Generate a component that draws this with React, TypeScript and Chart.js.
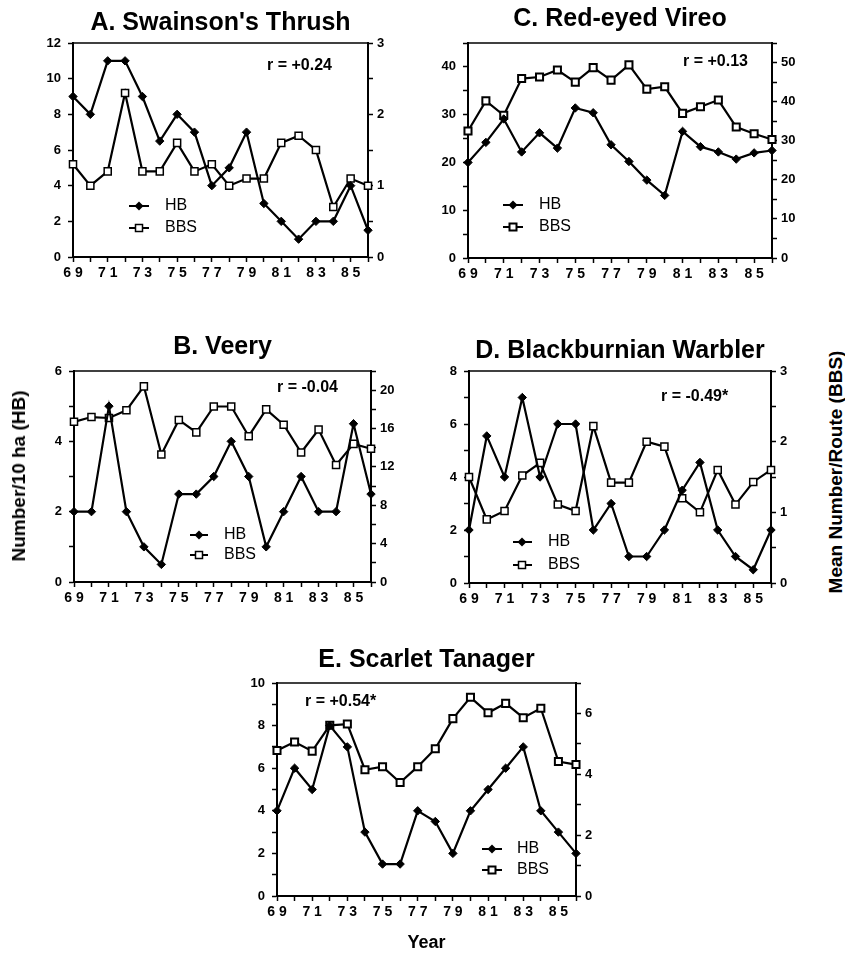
import React, { useEffect, useRef } from "react";
import { Chart, registerables } from "chart.js";
Chart.register(...registerables);

const FONT = '"Liberation Sans", Arial, Helvetica, sans-serif';

// ---- data ----
const years = ["69","70","71","72","73","74","75","76","77","78","79","80","81","82","83","84","85","86"];
const xTickLabels = ["6 9","","7 1","","7 3","","7 5","","7 7","","7 9","","8 1","","8 3","","8 5",""];

const thrushHB = [9, 8, 11, 11, 9, 6.5, 8, 7, 4, 5, 7, 3, 2, 1, 2, 2, 4, 1.5];
const thrushBBS = [1.3, 1.0, 1.2, 2.3, 1.2, 1.2, 1.6, 1.2, 1.3, 1.0, 1.1, 1.1, 1.6, 1.7, 1.5, 0.7, 1.1, 1.0];

const vireoHB = [20, 24.2, 29.1, 22.2, 26.2, 23, 31.4, 30.4, 23.7, 20.2, 16.3, 13.1, 26.5, 23.3, 22.2, 20.7, 22, 22.5];
const vireoBBS = [32.5, 40.2, 36.5, 45.9, 46.3, 48.1, 45, 48.7, 45.5, 49.4, 43.2, 43.8, 37, 38.7, 40.4, 33.5, 31.8, 30.3];

const veeryHB = [2, 2, 5, 2, 1, 0.5, 2.5, 2.5, 3, 4, 3, 1, 2, 3, 2, 2, 4.5, 2.5];
const veeryBBS = [16.7, 17.2, 17.1, 17.9, 20.4, 13.3, 16.9, 15.6, 18.3, 18.3, 15.2, 18, 16.4, 13.5, 15.9, 12.2, 14.4, 13.9];

const warblerHB = [2, 5.55, 4, 7, 4, 6, 6, 2, 3, 1, 1, 2, 3.5, 4.55, 2, 1, 0.5, 2];
const warblerBBS = [1.5, 0.9, 1.02, 1.52, 1.7, 1.11, 1.02, 2.22, 1.42, 1.42, 2.0, 1.93, 1.2, 1.0, 1.6, 1.11, 1.43, 1.6];

const tanagerHB = [4, 6, 5, 8, 7, 3, 1.5, 1.5, 4, 3.5, 2, 4, 5, 6, 7, 4, 3, 2];
const tanagerBBS = [4.78, 5.06, 4.76, 5.61, 5.65, 4.15, 4.25, 3.73, 4.25, 4.84, 5.83, 6.53, 6.02, 6.33, 5.86, 6.17, 4.42, 4.32];

// ---- layout specs ----
type Spec = {
  key: string; title: string; r: string; hb: number[]; bbs: number[];
  leftMax: number; leftStep: number; leftLabel: number;
  rightMax: number; rightStep: number; rightLabel: number;
  x: number; y: number; w: number; h: number;
  area: { l: number; r: number; t: number; b: number };
  titleY: number; rX: number; rY: number;
  leg: { x1: number; x2: number; mx: number; tx: number; y1: number; y2: number };
  yearY?: number; bbsBorder: number;
};

const panels: Spec[] = [
  { key: "A", title: "A. Swainson's Thrush", r: "r = +0.24", hb: thrushHB, bbs: thrushBBS,
    leftMax: 12, leftStep: 1, leftLabel: 2, rightMax: 3, rightStep: 0.5, rightLabel: 1,
    x: 0, y: 0, w: 420, h: 296, area: { l: 73, r: 368, t: 43, b: 257 },
    titleY: 23, rX: 267, rY: 66, leg: { x1: 129, x2: 149, mx: 139, tx: 165, y1: 206, y2: 228 }, bbsBorder: 1.5 },
  { key: "C", title: "C. Red-eyed Vireo", r: "r = +0.13", hb: vireoHB, bbs: vireoBBS,
    leftMax: 45, leftStep: 5, leftLabel: 10, rightMax: 55, rightStep: 5, rightLabel: 10,
    x: 420, y: 0, w: 425, h: 296, area: { l: 48, r: 352, t: 43, b: 258 },
    titleY: 19, rX: 263, rY: 62, leg: { x1: 83, x2: 103, mx: 93, tx: 119, y1: 205, y2: 227 }, bbsBorder: 2 },
  { key: "B", title: "B. Veery", r: "r = -0.04", hb: veeryHB, bbs: veeryBBS,
    leftMax: 6, leftStep: 1, leftLabel: 2, rightMax: 22, rightStep: 2, rightLabel: 4,
    x: 0, y: 300, w: 420, h: 310, area: { l: 74, r: 371, t: 71, b: 282 },
    titleY: 47, rX: 277, rY: 88, leg: { x1: 190, x2: 208, mx: 199, tx: 224, y1: 235, y2: 255 }, bbsBorder: 1.5 },
  { key: "D", title: "D. Blackburnian Warbler", r: "r = -0.49*", hb: warblerHB, bbs: warblerBBS,
    leftMax: 8, leftStep: 1, leftLabel: 2, rightMax: 3, rightStep: 0.5, rightLabel: 1,
    x: 420, y: 300, w: 400, h: 310, area: { l: 49, r: 351, t: 71, b: 283 },
    titleY: 51, rX: 241, rY: 97, leg: { x1: 93, x2: 112, mx: 102, tx: 128, y1: 242, y2: 265 }, bbsBorder: 1.5 },
  { key: "E", title: "E. Scarlet Tanager", r: "r = +0.54*", hb: tanagerHB, bbs: tanagerBBS,
    leftMax: 10, leftStep: 1, leftLabel: 2, rightMax: 7, rightStep: 1, rightLabel: 2,
    x: 200, y: 620, w: 420, h: 334, area: { l: 77, r: 376, t: 63, b: 276 },
    titleY: 40, rX: 105, rY: 82, leg: { x1: 282, x2: 302, mx: 292, tx: 317, y1: 229, y2: 250 }, yearY: 323, bbsBorder: 2 },
];

const isMult = (v: number, m: number) => Math.abs(v / m - Math.round(v / m)) < 1e-6;
const yTickFont = { family: FONT, size: 13, weight: "bold" as const };
const xTickFont = { family: FONT, size: 14, weight: "bold" as const };

function makeDecor(p: Spec) {
  return {
    id: "decor" + p.key,
    afterDraw(chart: any) {
      const ctx = chart.ctx as CanvasRenderingContext2D;
      const ca = chart.chartArea;
      ctx.save();
      ctx.strokeStyle = "#000";
      ctx.lineWidth = 1.5;
      ctx.beginPath();
      ctx.moveTo(ca.left, ca.top);
      ctx.lineTo(ca.right, ca.top);
      ctx.stroke();
      ctx.fillStyle = "#000";
      ctx.textBaseline = "middle";
      ctx.textAlign = "center";
      ctx.font = `bold 25px ${FONT}`;
      ctx.fillText(p.title, (ca.left + ca.right) / 2, p.titleY);
      if (p.yearY) {
        ctx.font = `bold 18px ${FONT}`;
        ctx.fillText("Year", (ca.left + ca.right) / 2, p.yearY);
      }
      ctx.textAlign = "left";
      ctx.font = `bold 16px ${FONT}`;
      ctx.fillText(p.r, p.rX, p.rY);
      // legend
      const L = p.leg;
      ctx.lineWidth = 2;
      [L.y1, L.y2].forEach((yy, i) => {
        ctx.lineWidth = 2;
        ctx.beginPath();
        ctx.moveTo(L.x1, yy);
        ctx.lineTo(L.x2, yy);
        ctx.stroke();
        if (i === 0) {
          ctx.beginPath();
          ctx.moveTo(L.mx, yy - 4.5);
          ctx.lineTo(L.mx + 4.5, yy);
          ctx.lineTo(L.mx, yy + 4.5);
          ctx.lineTo(L.mx - 4.5, yy);
          ctx.closePath();
          ctx.fill();
        } else {
          ctx.fillStyle = "#fff";
          ctx.fillRect(L.mx - 3.5, yy - 3.5, 7, 7);
          ctx.lineWidth = p.bbsBorder;
          ctx.strokeRect(L.mx - 3.5, yy - 3.5, 7, 7);
          ctx.fillStyle = "#000";
        }
      });
      ctx.font = `16px ${FONT}`;
      ctx.fillText("HB", L.tx, L.y1);
      ctx.fillText("BBS", L.tx, L.y2);
      ctx.restore();
    },
  };
}

function PanelChart({ p }: { p: Spec }) {
  const ref = useRef<HTMLCanvasElement>(null);
  useEffect(() => {
    const a = p.area;
    const grid = { drawOnChartArea: false, drawTicks: true, tickLength: 5, color: "#000", tickColor: "#000", tickWidth: 1.5 };
    const border = { display: true, color: "#000", width: 2 };
    const chart = new Chart(ref.current as HTMLCanvasElement, {
      type: "line",
      data: {
        labels: years,
        datasets: [
          { label: "HB", data: p.hb, yAxisID: "y", borderColor: "#000", borderWidth: 2.2,
            pointStyle: "rectRot", pointRadius: 4.2, pointBackgroundColor: "#000", pointBorderColor: "#000",
            pointBorderWidth: 1, tension: 0, fill: false },
          { label: "BBS", data: p.bbs, yAxisID: "y2", borderColor: "#000", borderWidth: 2.2,
            pointStyle: "rect", pointRadius: 5, pointBackgroundColor: "#fff", pointBorderColor: "#000",
            pointBorderWidth: p.bbsBorder, tension: 0, fill: false },
        ],
      },
      options: {
        responsive: false,
        animation: false,
        devicePixelRatio: 1,
        events: [],
        layout: { autoPadding: false, padding: { top: a.t, left: 0, right: 0, bottom: 0 } },
        plugins: { legend: { display: false }, tooltip: { enabled: false }, title: { display: false } },
        scales: {
          x: {
            type: "category", offset: false,
            grid: { ...grid, offset: false }, border,
            ticks: { autoSkip: false, maxRotation: 0, minRotation: 0, padding: 3, color: "#000", font: xTickFont,
              callback: (_v: any, i: number) => xTickLabels[i] },
            afterFit: (s: any) => { s.height = p.h - a.b; s.paddingLeft = 0; s.paddingRight = 0; },
          },
          y: {
            type: "linear", position: "left", min: 0, max: p.leftMax,
            grid, border,
            ticks: { stepSize: p.leftStep, padding: 7, color: "#000", font: yTickFont,
              callback: (v: any) => (isMult(Number(v), p.leftLabel) ? String(v) : "") },
            afterFit: (s: any) => { s.width = a.l; s.paddingTop = 0; s.paddingBottom = 0; },
          },
          y2: {
            type: "linear", position: "right", min: 0, max: p.rightMax,
            grid, border,
            ticks: { stepSize: p.rightStep, padding: 4, color: "#000", font: yTickFont,
              callback: (v: any) => (isMult(Number(v), p.rightLabel) ? String(v) : "") },
            afterFit: (s: any) => { s.width = p.w - a.r; s.paddingTop = 0; s.paddingBottom = 0; },
          },
        },
      } as any,
      plugins: [makeDecor(p)],
    });
    return () => chart.destroy();
  }, []);
  return (
    <canvas ref={ref} width={p.w} height={p.h}
      style={{ position: "absolute", left: p.x, top: p.y, width: p.w, height: p.h }} />
  );
}

export default function App() {
  const side: React.CSSProperties = {
    position: "absolute", transform: "translate(-50%, -50%) rotate(-90deg)", whiteSpace: "nowrap",
    font: `bold 19px ${FONT}`, color: "#000",
  };
  return (
    <div style={{ position: "absolute", left: 0, top: 0, width: 845, height: 954, overflow: "hidden", background: "#fff" }}>
      {panels.map((p) => <PanelChart key={p.key} p={p} />)}
      <div style={{ ...side, left: 19, top: 476 }}>Number/10 ha (HB)</div>
      <div style={{ ...side, left: 836, top: 472 }}>Mean Number/Route (BBS)</div>
    </div>
  );
}
